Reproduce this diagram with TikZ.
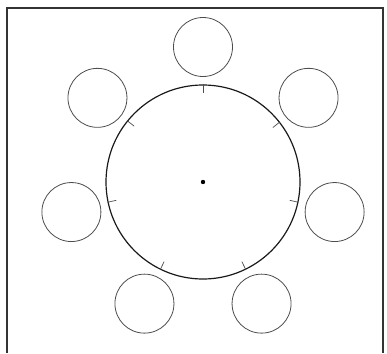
\documentclass[tikz,border=0pt]{standalone}
\begin{document}
\begin{tikzpicture}[x=1pt,y=-1pt,
  tablebox/.style={circle,draw=black!90,line width=1.2pt,minimum size=194pt,inner sep=0pt},
  chair/.style={circle,draw=black!70,line width=0.8pt,minimum size=59pt,inner sep=0pt},
  tick/.style={draw=black!70,line width=0.7pt},
  frame/.style={draw=black!80,line width=1.5pt}]
\useasboundingbox (0,0) rectangle (387,353);
\draw[frame] (7,353) -- (7,8) -- (383,8) -- (383,353);
\node[tablebox] (table) at (203,182) {};
\fill (table.center) circle (2.2pt);
\foreach \a [count=\i] in {90,38.57,-12.86,-64.29,244.29,192.86,141.43}{
  \node[chair] (c\i) at ([shift={(\a:135pt)}]table.center) {};
  \draw[tick] (table.\a) -- ([shift={(\a+180:9pt)}]table.\a);
}
\end{tikzpicture}
\end{document}
